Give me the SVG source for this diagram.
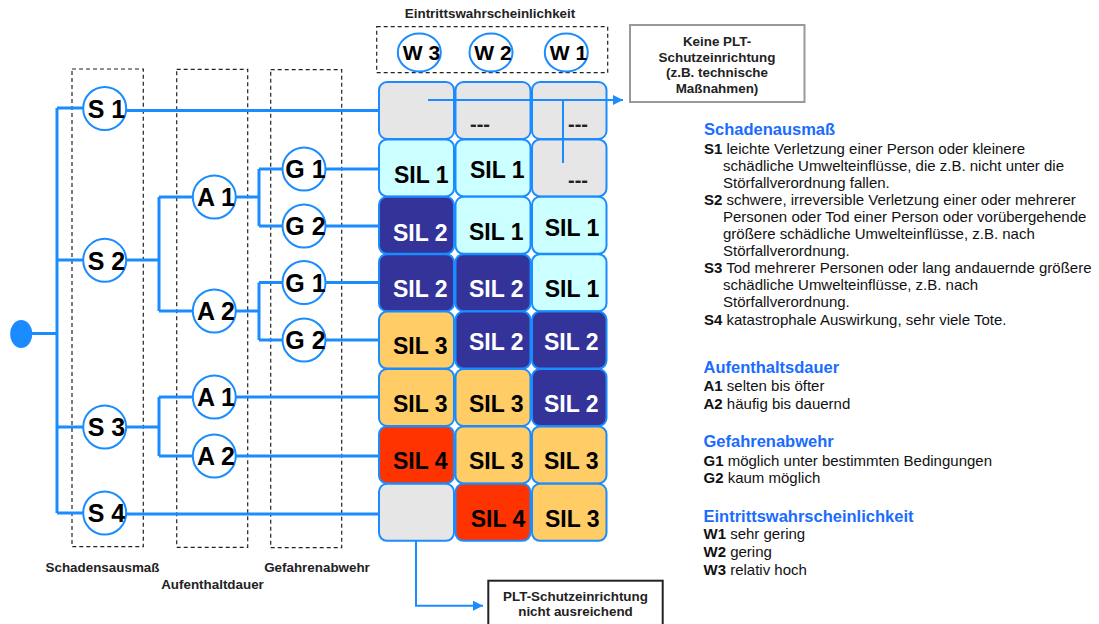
<svg xmlns="http://www.w3.org/2000/svg" width="1099" height="624" viewBox="0 0 1099 624">
  <defs>
    <style>
      .ln { fill: none; stroke: #1a8cff; stroke-width: 3; }
      .ln2 { fill: none; stroke: #1a8cff; stroke-width: 2; }
      .dash { fill: none; stroke: #222; stroke-width: 1.2; stroke-dasharray: 4 3; }
      .node { fill: #fff; stroke: #1a8cff; stroke-width: 2; }
      .nl { font-family: "Liberation Sans", Arial, sans-serif; font-weight: bold; font-size: 25px; fill: #000; text-anchor: middle; }
      .wl { font-family: "Liberation Sans", Arial, sans-serif; font-weight: bold; font-size: 21px; fill: #000; text-anchor: middle; }
      .cell { stroke: #1a8cff; stroke-width: 2; }
      .grey { fill: #e6e6e6; }
      .cyan { fill: #ccffff; }
      .dark { fill: #333399; }
      .orange { fill: #ffcc66; }
      .red { fill: #ff3300; }
      .sil { font-family: "Liberation Sans", Arial, sans-serif; font-weight: bold; font-size: 23px; fill: #000; }
      .silw { font-family: "Liberation Sans", Arial, sans-serif; font-weight: bold; font-size: 23px; fill: #fff; }
      .none { font-family: "Liberation Sans", Arial, sans-serif; font-weight: bold; font-size: 20px; fill: #222; }
      .cap { font-family: "Liberation Sans", Arial, sans-serif; font-weight: bold; font-size: 13.4px; fill: #222; text-anchor: middle; }
      .box { font-family: "Liberation Sans", Arial, sans-serif; font-weight: bold; font-size: 13.4px; fill: #222; text-anchor: middle; }
      .hd { font-family: "Liberation Sans", Arial, sans-serif; font-weight: bold; font-size: 16.5px; fill: #1a6cff; }
      .tx { font-family: "Liberation Sans", Arial, sans-serif; font-size: 15px; fill: #111; }
      .b { font-weight: bold; }
    </style>
    <marker id="arrow" viewBox="0 0 10 10" refX="10" refY="5" markerWidth="11" markerHeight="10" markerUnits="userSpaceOnUse" orient="auto">
      <path d="M0,0 L10,5 L0,10 z" fill="#1a8cff"/>
    </marker>
  </defs>

  <!-- column frames -->
  <g id="frames">
    <rect class="dash" x="72" y="69" width="71.3" height="477.7"/>
    <rect class="dash" x="176.7" y="69.3" width="71" height="478"/>
    <rect class="dash" x="270.7" y="69.7" width="71" height="478"/>
    <rect class="dash" x="376.7" y="26.7" width="231" height="46"/>
  </g>

  <!-- connectors -->
  <g id="connectors">
    <path class="ln" d="M30,333.5 H57 M57,108 V513"/>
    <path class="ln" d="M57,108 H83 M126,110.5 H379"/>
    <path class="ln" d="M57,260 H83 M126,260 H159 M159,197 V311 M159,197 H193 M159,311 H193"/>
    <path class="ln" d="M236,197 H259 M259,169 V226 M259,169 H282.5 M259,226 H282.5 M325.5,169 H379 M325.5,226 H379"/>
    <path class="ln" d="M236,311 H259 M259,282.5 V340 M259,282.5 H282.5 M259,340 H282.5 M325.5,282.5 H379 M325.5,340 H379"/>
    <path class="ln" d="M57,427 H83 M126,427 H159 M159,397 V456 M159,397 H193 M159,456 H193 M236,397 H379 M236,456 H379"/>
    <path class="ln" d="M57,513 H83 M126,514 H379"/>
  </g>

  <!-- root -->
  <g id="root">
    <ellipse cx="21.2" cy="334" rx="11" ry="14" fill="#1a8cff"/>
  </g>

  <!-- Schadensausmass nodes -->
  <g id="S1"><circle class="node" cx="104.7" cy="108.5" r="21.5"/><text class="nl" x="106.5" y="117.5">S 1</text></g>
  <g id="S2"><circle class="node" cx="104.7" cy="260.3" r="21.5"/><text class="nl" x="106.5" y="269.5">S 2</text></g>
  <g id="S3"><circle class="node" cx="104.7" cy="427" r="21.5"/><text class="nl" x="106.5" y="436">S 3</text></g>
  <g id="S4"><circle class="node" cx="104.7" cy="513" r="21.5"/><text class="nl" x="106.5" y="522">S 4</text></g>

  <!-- Aufenthaltsdauer nodes -->
  <g id="A1a"><circle class="node" cx="214.3" cy="197" r="21.5"/><text class="nl" x="216" y="206">A 1</text></g>
  <g id="A2a"><circle class="node" cx="214.3" cy="311" r="21.5"/><text class="nl" x="216" y="320">A 2</text></g>
  <g id="A1b"><circle class="node" cx="214.3" cy="397" r="21.5"/><text class="nl" x="216" y="406">A 1</text></g>
  <g id="A2b"><circle class="node" cx="214.3" cy="456" r="21.5"/><text class="nl" x="216" y="465">A 2</text></g>

  <!-- Gefahrenabwehr nodes -->
  <g id="G1a"><circle class="node" cx="304" cy="169" r="21.5"/><text class="nl" x="305.5" y="178">G 1</text></g>
  <g id="G2a"><circle class="node" cx="304" cy="226" r="21.5"/><text class="nl" x="305.5" y="235">G 2</text></g>
  <g id="G1b"><circle class="node" cx="304" cy="282.5" r="21.5"/><text class="nl" x="305.5" y="291.5">G 1</text></g>
  <g id="G2b"><circle class="node" cx="304" cy="340" r="21.5"/><text class="nl" x="305.5" y="349">G 2</text></g>

  <!-- Eintrittswahrscheinlichkeit nodes -->
  <text class="cap" x="490" y="18.3">Eintrittswahrscheinlichkeit</text>
  <g id="W3"><ellipse class="node" cx="419.3" cy="52.5" rx="21.5" ry="19"/><text class="wl" x="421.5" y="59.5">W 3</text></g>
  <g id="W2"><ellipse class="node" cx="491" cy="52.5" rx="21.5" ry="19"/><text class="wl" x="493" y="59.5">W 2</text></g>
  <g id="W1"><ellipse class="node" cx="566.3" cy="52.5" rx="21.5" ry="19"/><text class="wl" x="568.5" y="59.5">W 1</text></g>

  <!-- risk matrix -->
  <g id="matrix">
    <rect class="cell grey" x="379" y="82" width="75" height="57" rx="8"/>
    <rect class="cell grey" x="455.5" y="82" width="75" height="57" rx="8"/>
    <rect class="cell grey" x="532" y="82" width="74.5" height="57" rx="8"/>
    <text class="none" x="470" y="130.7">---</text>
    <text class="none" x="568" y="130.7">---</text>

    <rect class="cell cyan" x="379" y="139.4" width="75" height="57" rx="8"/>
    <rect class="cell cyan" x="455.5" y="139.4" width="75" height="57" rx="8"/>
    <rect class="cell grey" x="532" y="139.4" width="74.5" height="57" rx="8"/>
    <text class="sil" x="394" y="183">SIL 1</text>
    <text class="sil" x="470" y="178.3">SIL 1</text>
    <text class="none" x="568" y="187">---</text>

    <rect class="cell dark" x="379" y="196.8" width="75" height="57" rx="8"/>
    <rect class="cell cyan" x="455.5" y="196.8" width="75" height="57" rx="8"/>
    <rect class="cell cyan" x="532" y="196.8" width="74.5" height="57" rx="8"/>
    <text class="silw" x="393" y="240.7">SIL 2</text>
    <text class="sil" x="469" y="240">SIL 1</text>
    <text class="sil" x="544.7" y="235.7">SIL 1</text>

    <rect class="cell dark" x="379" y="254.2" width="75" height="57" rx="8"/>
    <rect class="cell dark" x="455.5" y="254.2" width="75" height="57" rx="8"/>
    <rect class="cell cyan" x="532" y="254.2" width="74.5" height="57" rx="8"/>
    <text class="silw" x="393" y="297.3">SIL 2</text>
    <text class="silw" x="469" y="297.3">SIL 2</text>
    <text class="sil" x="544.7" y="297.3">SIL 1</text>

    <rect class="cell orange" x="379" y="311.6" width="75" height="57" rx="8"/>
    <rect class="cell dark" x="455.5" y="311.6" width="75" height="57" rx="8"/>
    <rect class="cell dark" x="532" y="311.6" width="74.5" height="57" rx="8"/>
    <text class="sil" x="393" y="354">SIL 3</text>
    <text class="silw" x="469" y="350">SIL 2</text>
    <text class="silw" x="544" y="350">SIL 2</text>

    <rect class="cell orange" x="379" y="369" width="75" height="57" rx="8"/>
    <rect class="cell orange" x="455.5" y="369" width="75" height="57" rx="8"/>
    <rect class="cell dark" x="532" y="369" width="74.5" height="57" rx="8"/>
    <text class="sil" x="393" y="411.7">SIL 3</text>
    <text class="sil" x="469" y="411.7">SIL 3</text>
    <text class="silw" x="544" y="411.7">SIL 2</text>

    <rect class="cell red" x="379" y="426.4" width="75" height="57" rx="8"/>
    <rect class="cell orange" x="455.5" y="426.4" width="75" height="57" rx="8"/>
    <rect class="cell orange" x="532" y="426.4" width="74.5" height="57" rx="8"/>
    <text class="sil" x="393" y="469.3">SIL 4</text>
    <text class="sil" x="469" y="469.3">SIL 3</text>
    <text class="sil" x="544" y="469.3">SIL 3</text>

    <rect class="cell grey" x="379" y="483.8" width="75" height="57" rx="8"/>
    <rect class="cell red" x="455.5" y="483.8" width="75" height="57" rx="8"/>
    <rect class="cell orange" x="532" y="483.8" width="74.5" height="57" rx="8"/>
    <text class="sil" x="470.7" y="527.3">SIL 4</text>
    <text class="sil" x="545" y="527.3">SIL 3</text>
  </g>

  <!-- outcome arrows -->
  <g id="outcome-connectors">
    <path class="ln2" d="M428,100 H623" marker-end="url(#arrow)"/>
    <path class="ln2" d="M563,100 V163"/>
    <path class="ln2" d="M416,541 V605.7 H483" marker-end="url(#arrow)"/>
  </g>

  <g id="keine-plt">
    <rect x="630" y="25" width="174.5" height="77" fill="#fff" stroke="#999" stroke-width="2"/>
    <text class="box" x="717" y="46">Keine PLT-</text>
    <text class="box" x="717" y="61.5">Schutzeinrichtung</text>
    <text class="box" x="717" y="77">(z.B. technische</text>
    <text class="box" x="717" y="92.5">Maßnahmen)</text>
  </g>

  <g id="plt-nicht-ausreichend">
    <rect x="488.3" y="580.7" width="174.4" height="50" fill="#fff" stroke="#222" stroke-width="2"/>
    <text class="box" x="575.5" y="600.5">PLT-Schutzeinrichtung</text>
    <text class="box" x="575.5" y="616">nicht ausreichend</text>
  </g>

  <!-- column captions -->
  <g id="captions">
    <text class="cap" x="102.5" y="572">Schadensausmaß</text>
    <text class="cap" x="212.5" y="588.7">Aufenthaltdauer</text>
    <text class="cap" x="317" y="572.3">Gefahrenabwehr</text>
  </g>

  <!-- legend -->
  <g id="legend">
    <text class="hd" x="704" y="135">Schadenausmaß</text>
    <text class="tx" x="704" y="153.5"><tspan class="b">S1</tspan> leichte Verletzung einer Person oder kleinere</text>
    <text class="tx" x="723" y="170.6">schädliche Umwelteinflüsse, die z.B. nicht unter die</text>
    <text class="tx" x="723" y="187.7">Störfallverordnung fallen.</text>
    <text class="tx" x="704" y="204.8"><tspan class="b">S2</tspan> schwere, irreversible Verletzung einer oder mehrerer</text>
    <text class="tx" x="723" y="221.9">Personen oder Tod einer Person oder vorübergehende</text>
    <text class="tx" x="723" y="239">größere schädliche Umwelteinflüsse, z.B. nach</text>
    <text class="tx" x="723" y="256.1">Störfallverordnung.</text>
    <text class="tx" x="704" y="273.2"><tspan class="b">S3</tspan> Tod mehrerer Personen oder lang andauernde größere</text>
    <text class="tx" x="723" y="290.3">schädliche Umwelteinflüsse, z.B. nach</text>
    <text class="tx" x="723" y="307.4">Störfallverordnung.</text>
    <text class="tx" x="704" y="324.5"><tspan class="b">S4</tspan> katastrophale Auswirkung, sehr viele Tote.</text>

    <text class="hd" x="703.5" y="373.3">Aufenthaltsdauer</text>
    <text class="tx" x="703.5" y="391"><tspan class="b">A1</tspan> selten bis öfter</text>
    <text class="tx" x="703.5" y="409.3"><tspan class="b">A2</tspan> häufig bis dauernd</text>

    <text class="hd" x="703.5" y="447.3">Gefahrenabwehr</text>
    <text class="tx" x="703.5" y="465.7"><tspan class="b">G1</tspan> möglich unter bestimmten Bedingungen</text>
    <text class="tx" x="703.5" y="483.3"><tspan class="b">G2</tspan> kaum möglich</text>

    <text class="hd" x="703.5" y="521.7">Eintrittswahrscheinlichkeit</text>
    <text class="tx" x="703.5" y="539.3"><tspan class="b">W1</tspan> sehr gering</text>
    <text class="tx" x="703.5" y="557.2"><tspan class="b">W2</tspan> gering</text>
    <text class="tx" x="703.5" y="575"><tspan class="b">W3</tspan> relativ hoch</text>
  </g>
</svg>
